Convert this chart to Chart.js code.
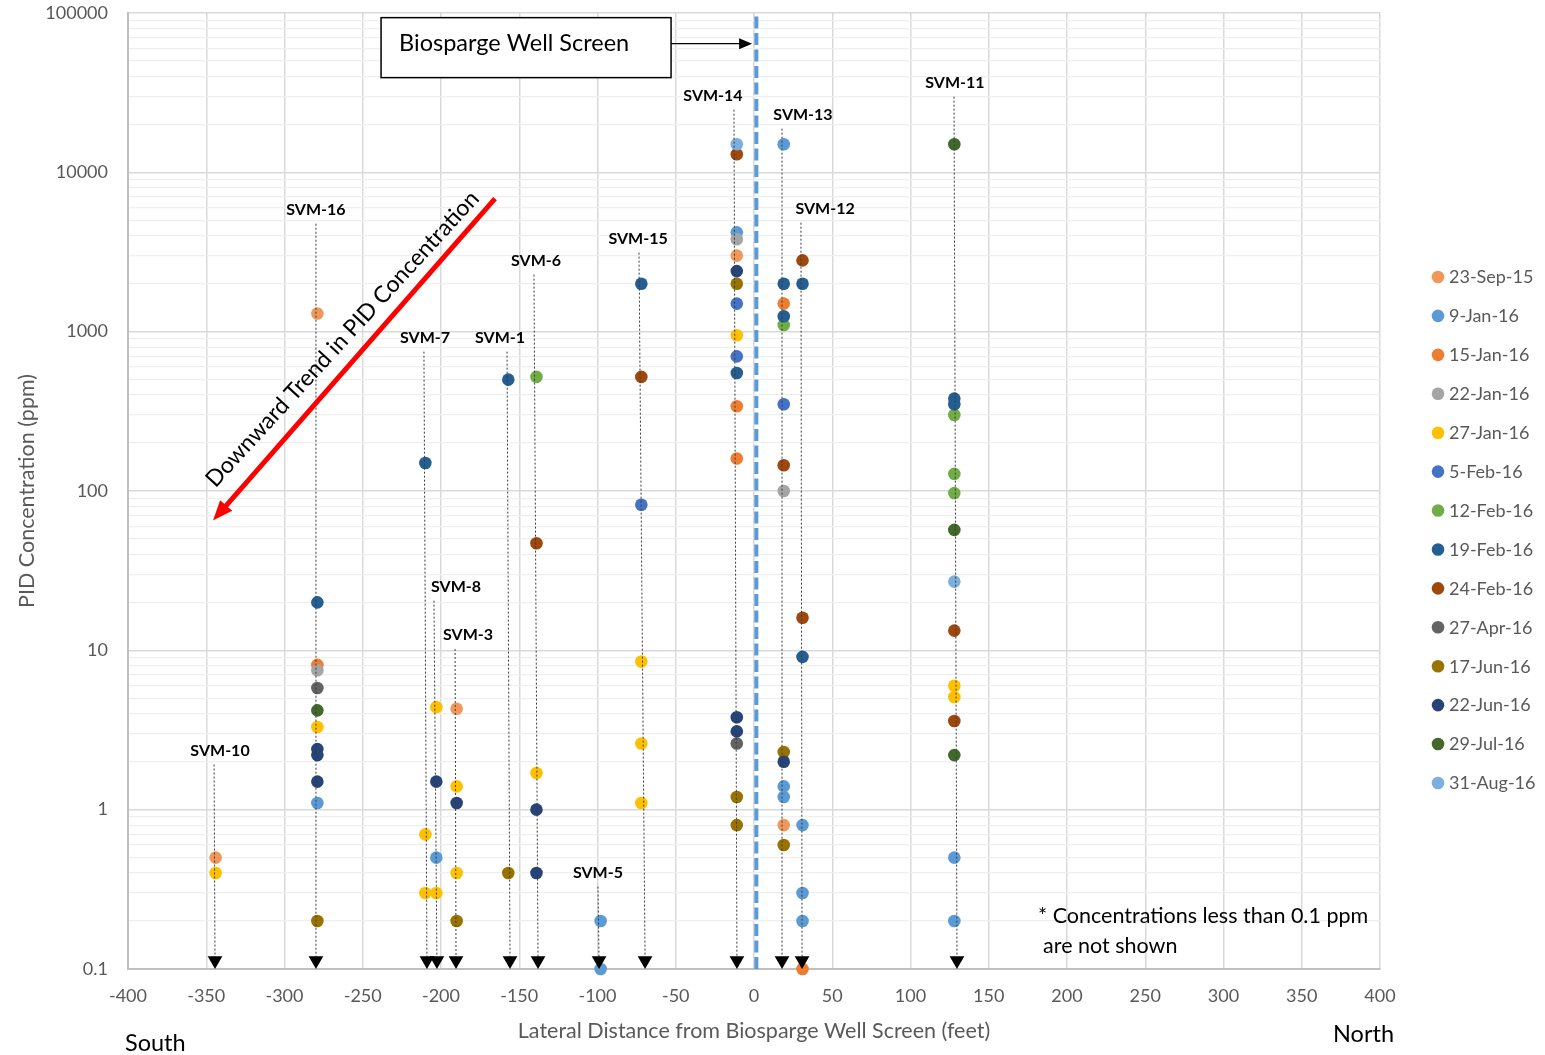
<!DOCTYPE html>
<html>
<head>
<meta charset="utf-8">
<title>PID Concentration vs Lateral Distance</title>
<script src="https://cdn.jsdelivr.net/npm/chart.js@4.4.1/dist/chart.umd.min.js"></script>
<style>
  html, body { margin: 0; padding: 0; background: #ffffff; }
  canvas { display: block; }
</style>
</head>
<body>
<canvas id="chart" width="1545" height="1055"></canvas>
<script>
// Soil vapour monitoring points and their lateral distance (feet) from the biosparge well screen
const wells        = ['SVM-10', 'SVM-16', 'SVM-7', 'SVM-8', 'SVM-3', 'SVM-1', 'SVM-6', 'SVM-5', 'SVM-15', 'SVM-14', 'SVM-13', 'SVM-12', 'SVM-11'];
const wellDistance = [-344, -279, -210, -203, -190, -157, -139, -98, -72, -11, 19, 31, 128];

// Sampling events
const sampleDates = ['23-Sep-15', '9-Jan-16', '15-Jan-16', '22-Jan-16', '27-Jan-16', '5-Feb-16', '12-Feb-16',
                     '19-Feb-16', '24-Feb-16', '27-Apr-16', '17-Jun-16', '22-Jun-16', '29-Jul-16', '31-Aug-16'];

// PID readings (ppm) per sampling event: [well, ppm]
const sep23_15 = [['SVM-10', 0.5], ['SVM-16', 1300], ['SVM-3', 4.3], ['SVM-14', 3000], ['SVM-13', 0.8]];
const jan09_16 = [['SVM-16', 1.1], ['SVM-8', 0.5], ['SVM-5', 0.2], ['SVM-5', 0.1], ['SVM-14', 4200],
                  ['SVM-13', 15000], ['SVM-13', 1.4], ['SVM-13', 1.2], ['SVM-12', 0.8], ['SVM-12', 0.3],
                  ['SVM-12', 0.2], ['SVM-11', 0.5], ['SVM-11', 0.2]];
const jan15_16 = [['SVM-16', 8.1], ['SVM-14', 340], ['SVM-14', 160], ['SVM-13', 1500], ['SVM-12', 0.1]];
const jan22_16 = [['SVM-16', 7.5], ['SVM-14', 3800], ['SVM-13', 100]];
const jan27_16 = [['SVM-10', 0.4], ['SVM-16', 3.3], ['SVM-7', 0.7], ['SVM-7', 0.3], ['SVM-8', 4.4], ['SVM-8', 0.3],
                  ['SVM-3', 1.4], ['SVM-3', 0.4], ['SVM-6', 1.7], ['SVM-15', 8.5], ['SVM-15', 2.6], ['SVM-15', 1.1],
                  ['SVM-14', 950], ['SVM-11', 6.0], ['SVM-11', 5.1]];
const feb05_16 = [['SVM-15', 82], ['SVM-14', 1500], ['SVM-14', 700], ['SVM-13', 350]];
const feb12_16 = [['SVM-6', 520], ['SVM-13', 1100], ['SVM-11', 300], ['SVM-11', 128], ['SVM-11', 97]];
const feb19_16 = [['SVM-16', 20], ['SVM-7', 150], ['SVM-1', 500], ['SVM-15', 2000], ['SVM-14', 550],
                  ['SVM-13', 2000], ['SVM-13', 1250], ['SVM-12', 2000], ['SVM-12', 9.1], ['SVM-11', 380], ['SVM-11', 350]];
const feb24_16 = [['SVM-6', 47], ['SVM-15', 520], ['SVM-14', 13000], ['SVM-13', 145], ['SVM-12', 2800],
                  ['SVM-12', 16], ['SVM-11', 13.3], ['SVM-11', 3.6]];
const apr27_16 = [['SVM-16', 5.8], ['SVM-14', 2.6]];
const jun17_16 = [['SVM-16', 0.2], ['SVM-1', 0.4], ['SVM-3', 0.2], ['SVM-14', 2000], ['SVM-14', 1.2],
                  ['SVM-14', 0.8], ['SVM-13', 2.3], ['SVM-13', 0.6]];
const jun22_16 = [['SVM-16', 2.4], ['SVM-16', 2.2], ['SVM-16', 1.5], ['SVM-8', 1.5], ['SVM-3', 1.1], ['SVM-6', 1.0],
                  ['SVM-6', 0.4], ['SVM-14', 2400], ['SVM-14', 3.8], ['SVM-14', 3.1], ['SVM-13', 2.0]];
const jul29_16 = [['SVM-16', 4.2], ['SVM-11', 15000], ['SVM-11', 57], ['SVM-11', 2.2]];
const aug31_16 = [['SVM-14', 15000], ['SVM-11', 27]];

const seriesValues = [sep23_15, jan09_16, jan15_16, jan22_16, jan27_16, feb05_16, feb12_16,
                      feb19_16, feb24_16, apr27_16, jun17_16, jun22_16, jul29_16, aug31_16];

// Axis tick labels
const decadeLabels = ['0.1', '1', '10', '100', '1000', '10000', '100000'];
const distanceTicks = [-400, -350, -300, -250, -200, -150, -100, -50, 0, 50, 100, 150, 200, 250, 300, 350, 400];

// Series colours
const palette = ['#F1975A', '#5B9BD5', '#ED7D31', '#A5A5A5', '#FFC000', '#4472C4', '#70AD47',
                 '#255E91', '#9E480E', '#636363', '#997300', '#264478', '#43682B', '#7CAFDD'];

// Leader lines: top of line [feet, ppm], arrow position [feet], label centre [feet]
const leaderTopX   = [-345, -279.9, -210.9, -204.5, -191, -157.8, -140.6, -99.7, -73.5, -12.8, 17.9, 30, 127.8];
const leaderTopPpm = [1.92, 4760, 749, 20.5, 10.2, 749, 2280, 0.329, 3133, 24730, 18800, 4830, 29850];
const arrowX       = [-344.4, -279.9, -209, -202.6, -190.4, -155.9, -138, -99, -69.6, -10.9, 17.9, 30.7, 129.7];
const labelX       = [-341.2, -279.9, -210.2, -190.4, -182.7, -162.3, -139.3, -99.7, -74.1, -26.2, 31.3, 45.4, 128.4];
const ARROW_PPM = 0.113;
const SCREEN_X = 1.5;

const FONT = 'Lato, "Open Sans", "DejaVu Sans", sans-serif';

function isDecade(v) {
  const l = Math.log10(v);
  return Math.abs(l - Math.round(l)) < 1e-9;
}

// Sample points, one dataset per sampling event; later events drawn on top
const sampleSets = seriesValues.map((rows, i) => ({
  label: sampleDates[i],
  data: rows.map(([well, ppm]) => ({ x: wellDistance[wells.indexOf(well)], y: ppm })),
  backgroundColor: palette[i],
  borderColor: palette[i],
  borderWidth: 0,
  pointRadius: 6.3,
  pointHoverRadius: 6.3,
  clip: false,
  order: 50 - i
}));

// Dotted leader lines ending in a downward arrowhead
const leaderSets = wells.map((w, i) => ({
  label: w,
  data: [{ x: leaderTopX[i], y: leaderTopPpm[i] }, { x: arrowX[i], y: ARROW_PPM }],
  showLine: true,
  borderColor: '#3a3a3a',
  borderWidth: 1,
  borderDash: [2, 2],
  pointRadius: [0, 8.5],
  pointStyle: 'triangle',
  pointRotation: 180,
  pointBackgroundColor: '#000000',
  pointBorderColor: '#000000',
  pointBorderWidth: 0,
  clip: false,
  order: -10
}));

// Biosparge well screen position
const screenSet = {
  label: 'Biosparge Well Screen',
  data: [{ x: SCREEN_X, y: 0.1 }, { x: SCREEN_X, y: 100000 }],
  showLine: true,
  borderColor: '#5B9BD5',
  borderWidth: 4,
  borderDash: [12, 4.5],
  pointRadius: 0,
  clip: false,
  order: 200
};

const annotations = {
  id: 'annotations',
  afterDatasetsDraw(chart) {
    const ctx = chart.ctx;
    const sx = chart.scales.x, sy = chart.scales.y;
    const px = v => sx.getPixelForValue(v);
    const py = v => sy.getPixelForValue(v);
    const area = chart.chartArea;
    ctx.save();

    // Well labels above the leader lines
    ctx.font = 'bold 16px ' + FONT;
    ctx.fillStyle = '#000000';
    ctx.textAlign = 'center';
    ctx.textBaseline = 'middle';
    wells.forEach((w, i) => {
      ctx.fillText(w, px(labelX[i]), py(leaderTopPpm[i]) - 14);
    });

    // Biosparge Well Screen call-out box and pointer
    const bx1 = px(-238.3), bx2 = px(-53), by1 = py(93500), by2 = py(39300);
    ctx.fillStyle = '#ffffff';
    ctx.fillRect(bx1, by1, bx2 - bx1, by2 - by1);
    ctx.strokeStyle = '#000000';
    ctx.lineWidth = 1.5;
    ctx.strokeRect(bx1, by1, bx2 - bx1, by2 - by1);
    ctx.fillStyle = '#000000';
    ctx.font = '23.5px ' + FONT;
    ctx.textAlign = 'left';
    ctx.fillText('Biosparge Well Screen', px(-226.8), py(64200));
    const ay = py(64200), tipX = px(-1.2);
    ctx.lineWidth = 1.2;
    ctx.beginPath();
    ctx.moveTo(bx2, ay);
    ctx.lineTo(tipX - 12, ay);
    ctx.stroke();
    ctx.beginPath();
    ctx.moveTo(tipX, ay);
    ctx.lineTo(tipX - 13, ay - 5.5);
    ctx.lineTo(tipX - 13, ay + 5.5);
    ctx.closePath();
    ctx.fill();

    // Downward trend arrow
    const x0 = px(-165.5), y0 = py(6840), x1 = px(-345.7), y1 = py(65.2);
    const ang = Math.atan2(y1 - y0, x1 - x0);
    const headLen = 20, headHalf = 8;
    ctx.strokeStyle = '#FF0000';
    ctx.fillStyle = '#FF0000';
    ctx.lineWidth = 5;
    ctx.beginPath();
    ctx.moveTo(x0, y0);
    ctx.lineTo(x1 - Math.cos(ang) * (headLen - 2), y1 - Math.sin(ang) * (headLen - 2));
    ctx.stroke();
    ctx.beginPath();
    ctx.moveTo(x1, y1);
    ctx.lineTo(x1 - Math.cos(ang) * headLen + Math.sin(ang) * headHalf, y1 - Math.sin(ang) * headLen - Math.cos(ang) * headHalf);
    ctx.lineTo(x1 - Math.cos(ang) * headLen - Math.sin(ang) * headHalf, y1 - Math.sin(ang) * headLen + Math.cos(ang) * headHalf);
    ctx.closePath();
    ctx.fill();

    ctx.save();
    ctx.translate(px(-263), py(900));
    ctx.rotate(-47.5 * Math.PI / 180);
    ctx.fillStyle = '#000000';
    ctx.font = '23px ' + FONT;
    ctx.textAlign = 'center';
    ctx.textBaseline = 'middle';
    ctx.fillText('Downward Trend in PID Concentration', 0, 0);
    ctx.restore();

    // Note on detection limit
    ctx.fillStyle = '#000000';
    ctx.font = '21.5px ' + FONT;
    ctx.textAlign = 'left';
    ctx.textBaseline = 'middle';
    ctx.fillText('* Concentrations less than 0.1 ppm', px(181.5), py(0.216));
    ctx.fillText('are not shown', px(184.7), py(0.140));

    // Compass directions below the axis
    ctx.font = '23.5px ' + FONT;
    ctx.fillText('South', area.left - 3, area.bottom + 74);
    ctx.fillText('North', area.right - 47, area.bottom + 65);

    ctx.restore();
  },
  afterDraw(chart) {
    // Sampling-date legend
    const ctx = chart.ctx;
    ctx.save();
    ctx.font = '18px ' + FONT;
    ctx.textAlign = 'left';
    ctx.textBaseline = 'middle';
    sampleDates.forEach((d, i) => {
      const y = 277 + i * 38.92;
      ctx.fillStyle = palette[i];
      ctx.beginPath();
      ctx.arc(1438, y, 6.3, 0, Math.PI * 2);
      ctx.fill();
      ctx.fillStyle = '#595959';
      ctx.fillText(d, 1449, y + 0.5);
    });
    ctx.restore();
  }
};

new Chart(document.getElementById('chart'), {
  type: 'scatter',
  data: { datasets: [...sampleSets, ...leaderSets, screenSet] },
  plugins: [annotations],
  options: {
    responsive: false,
    devicePixelRatio: 1,
    animation: false,
    events: [],
    layout: { padding: { top: 13, right: 165, left: 0, bottom: 0 } },
    plugins: { legend: { display: false }, tooltip: { enabled: false } },
    scales: {
      x: {
        type: 'linear',
        min: -400,
        max: 400,
        afterBuildTicks: s => { s.ticks = distanceTicks.map(v => ({ value: v })); },
        afterFit: s => { s.height = 86; s.paddingLeft = 0; s.paddingRight = 0; },
        ticks: {
          color: '#595959',
          font: { family: FONT, size: 18 },
          padding: 16,
          autoSkip: false,
          maxRotation: 0,
          callback: v => String(v)
        },
        grid: { color: '#D9D9D9', lineWidth: 1.5, drawTicks: false },
        border: { color: '#BFBFBF', width: 2 },
        title: {
          display: true,
          text: 'Lateral Distance from Biosparge Well Screen (feet)',
          color: '#595959',
          font: { family: FONT, size: 21.5 },
          padding: { top: 0, bottom: 11 }
        }
      },
      y: {
        type: 'logarithmic',
        min: 0.1,
        max: 100000,
        afterBuildTicks: s => {
          const t = [];
          for (let e = -1; e <= 4; e++) {
            for (let m = 1; m <= 9; m++) t.push({ value: Number((m * Math.pow(10, e)).toPrecision(3)) });
          }
          t.push({ value: 100000 });
          s.ticks = t;
        },
        afterFit: s => { s.width = 128; s.paddingTop = 0; s.paddingBottom = 0; },
        ticks: {
          color: '#595959',
          font: { family: FONT, size: 18 },
          padding: 20,
          autoSkip: false,
          callback: v => {
            if (!isDecade(v)) return '';
            return decadeLabels[Math.round(Math.log10(v)) + 1];
          }
        },
        grid: {
          color: c => (c.tick && isDecade(c.tick.value)) ? '#D9D9D9' : '#EFEFEF',
          lineWidth: c => (c.tick && isDecade(c.tick.value)) ? 1.5 : 1.2,
          drawTicks: false
        },
        border: { color: '#BFBFBF', width: 2 },
        title: {
          display: true,
          text: 'PID Concentration (ppm)',
          color: '#595959',
          font: { family: FONT, size: 21.5 },
          padding: { top: 14, bottom: 0 }
        }
      }
    }
  }
});
</script>
</body>
</html>
